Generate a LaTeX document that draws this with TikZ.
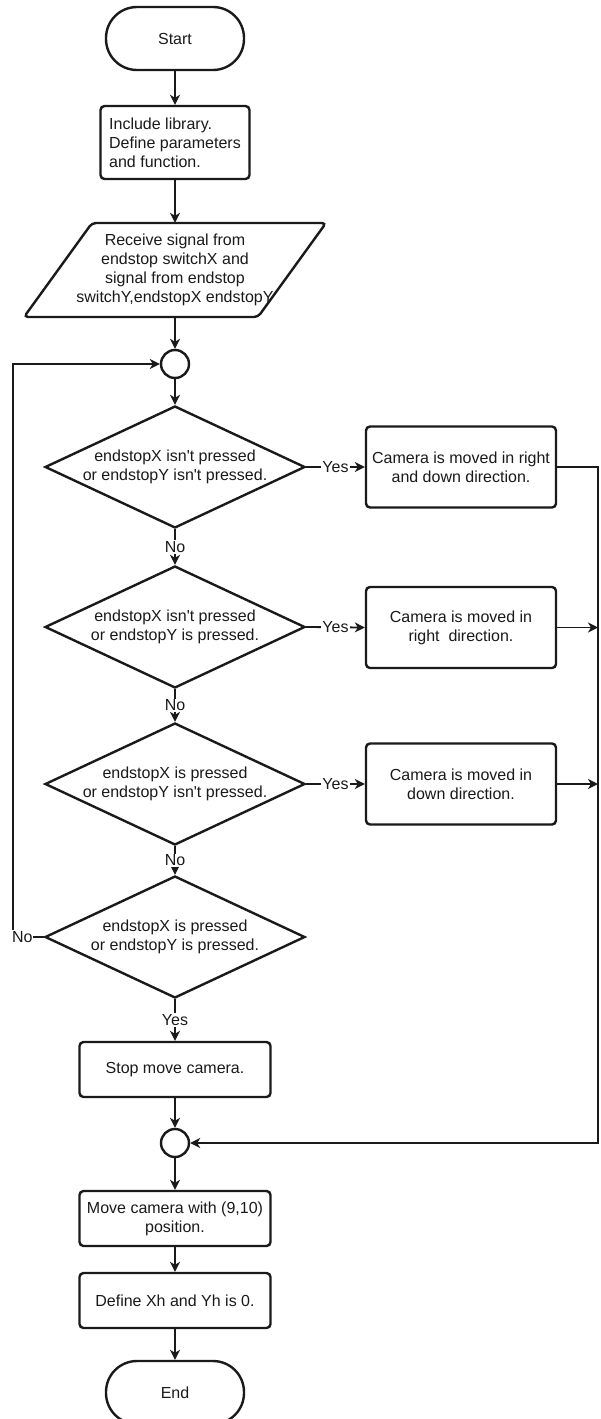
\documentclass[tikz,border=0pt]{standalone}
\usepackage{fontspec}
\setmainfont{Liberation Sans}[Ligatures=TeXOff]
\usetikzlibrary{shapes.geometric,arrows.meta}
\definecolor{ink}{HTML}{1A1A1A}
\begin{document}
\begin{tikzpicture}[x=1pt,y=-1pt,
  every node/.style={font=\fontsize{16}{19}\selectfont, text=ink},
  shp/.style={draw=ink, line width=2.4pt, fill=white},
  term/.style={shp, rounded corners=31pt, minimum width=138pt, minimum height=63pt, inner sep=0pt},
  procbox/.style={shp, rounded corners=4pt, minimum width=191pt, minimum height=55pt, align=center, inner sep=2pt},
  sidebox/.style={shp, rounded corners=4pt, minimum width=190pt, minimum height=81pt, align=center, inner sep=2pt},
  dec/.style={shp, diamond, aspect=2.13, inner sep=-4pt, minimum width=260pt, minimum height=122pt, align=center},
  junc/.style={shp, circle, minimum size=28pt, inner sep=0pt},
  conn/.style={draw=ink, line width=1.8pt},
  arr/.style={conn, -{Stealth[length=10pt,width=10pt,inset=3pt]}},
  lbl/.style={fill=white, inner sep=1pt}
]
\useasboundingbox (0,0) rectangle (601,1419);

% main column
\node[term] (start) at (175,38.5) {Start};
\node[shp, rounded corners=4pt, minimum width=149pt, minimum height=73pt, align=left, inner sep=2pt] (inc) at (175,142.5) {Include library.\\Define parameters\\and function.};
\draw[shp, rounded corners=4pt] (92,223) -- (326,223) -- (258,317) -- (24,317) -- cycle;
\node[minimum width=234pt, minimum height=94pt, inner sep=0pt, align=center] (par) at (175,270) {Receive signal from\\endstop switchX and\\signal from endstop\\switchY,endstopX endstopY};
\node[junc] (c1) at (175,364) {};
\node[dec] (d1) at (175,467) {endstopX isn't pressed\\or endstopY isn't pressed.};
\node[dec] (d2) at (175,627) {endstopX isn't pressed\\or endstopY is pressed.};
\node[dec] (d3) at (175,784) {endstopX is pressed\\or endstopY isn't pressed.};
\node[dec] (d4) at (175,937) {endstopX is pressed\\or endstopY is pressed.};
\node[procbox] (stop) at (175,1069.5) {Stop move camera.};
\node[junc] (c2) at (175,1143) {};
\node[procbox] (move) at (175,1218.5) {Move camera with (9,10)\\position.};
\node[procbox] (def) at (175,1300.5) {Define Xh and Yh is 0.};
\node[term] (end) at (175,1392.5) {End};

% side boxes
\node[sidebox] (bA) at (461,467) {Camera is moved in right\\and down direction.};
\node[sidebox] (bB) at (461,627.5) {Camera is moved in\\right\ \ direction.};
\node[sidebox] (bC) at (461,784) {Camera is moved in\\down direction.};

% connectors
\draw[arr] (start.south) -- (inc.north);
\draw[arr] (inc.south) -- (par.north);
\draw[arr] (par.south) -- (c1.north);
\draw[arr] (c1.south) -- (d1.north);
\draw[arr] (d1.south) -- node[lbl]{No} (d2.north);
\draw[arr] (d2.south) -- node[lbl]{No} (d3.north);
\draw[arr] (d3.south) -- node[lbl]{No} (d4.north);
\draw[arr] (d4.south) -- node[lbl]{Yes} (stop.north);
\draw[arr] (stop.south) -- (c2.north);
\draw[arr] (c2.south) -- (move.north);
\draw[arr] (move.south) -- (def.north);
\draw[arr] (def.south) -- (end.north);

\draw[arr] (d1.east) -- node[lbl]{Yes} (bA.west);
\draw[arr] (d2.east) -- node[lbl]{Yes} (bB.west);
\draw[arr] (d3.east) -- node[lbl]{Yes} (bC.west);

\coordinate (rA) at (598,467);
\draw[arr] (bA.east) -- (rA) |- (c2.east);
\draw[arr] (bB.east) -- (bB.east -| rA);
\draw[arr] (bC.east) -- (bC.east -| rA);

\coordinate (lx) at (13,937);
\draw[arr] (d4.west) -- node[lbl,pos=0.7]{No} (lx) |- (c1.west);
\end{tikzpicture}
\end{document}
